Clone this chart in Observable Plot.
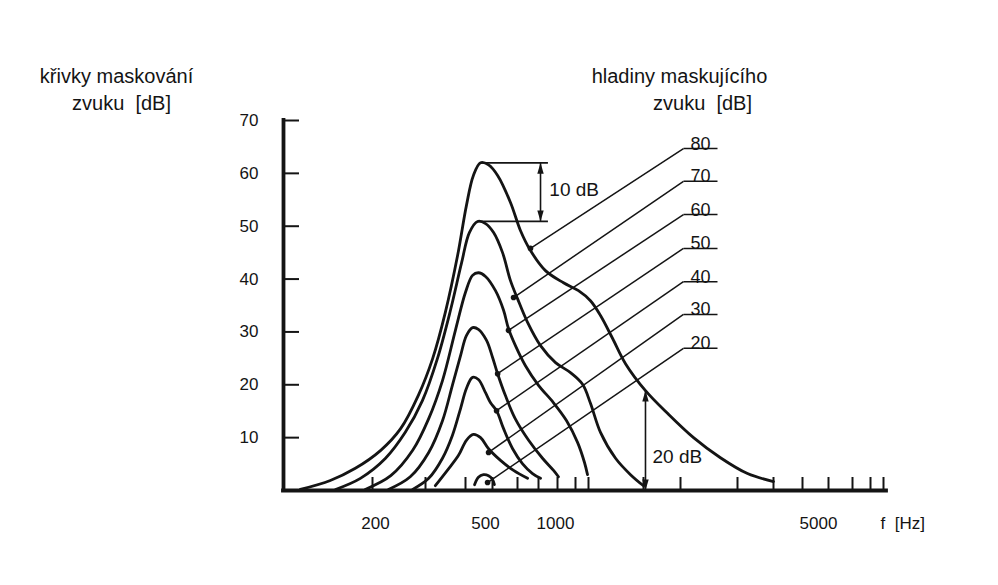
<!DOCTYPE html>
<html><head><meta charset="utf-8">
<script src="https://cdn.jsdelivr.net/npm/d3@7"></script>
<script src="https://cdn.jsdelivr.net/npm/@observablehq/plot@0.6"></script>
<style>html,body{margin:0;padding:0;background:#fff;} #chart svg{display:block;}</style>
</head><body><div id="chart"></div>
<script>
// masking noise levels [dB]
const levels = [20, 30, 40, 50, 60, 70, 80];
// masking curves: [frequency Hz, masking dB]
const curve20 = [[431,1.1],[445,2.5],[464,3.0],[484,2.8],[500,2.1],[507,1.1]];
const curve30 = [[322,0.9],[351,3.8],[380,6.6],[403,9.5],[427,10.6],[453,10.0],[484,7.9],[530,5.7],[583,3.8],[646,2.3]];
const curve40 = [[272,0.2],[307,2.3],[339,6.1],[364,10.4],[386,15.5],[403,19.3],[424,21.4],[445,21.0],[472,18.5],[492,16.6],[515,15.1],[542,11.7],[579,7.9],[622,5.1],[670,3.2],[710,2.3]];
const curve50 = [[226,0.2],[267,2.6],[307,7.2],[339,13.2],[364,19.9],[386,25.5],[403,29.3],[424,30.8],[445,30.5],[476,28.4],[500,25.2],[519,22.1],[549,18.0],[590,13.6],[651,9.5],[720,6.1],[778,3.8],[805,2.6]];
const curve60 = [[189,0.2],[230,2.8],[272,7.6],[307,13.6],[339,20.8],[372,30.3],[400,37.5],[424,40.7],[445,41.2],[472,40.5],[511,37.8],[542,34.1],[562,30.6],[591,27.4],[636,23.6],[700,19.9],[778,16.6],[849,13.2],[915,9.1],[968,5.3],[992,3.0]];
const curve70 = [[150,0.2],[182,2.3],[221,6.1],[257,11.0],[293,17.0],[327,25.0],[359,34.1],[389,43.1],[413,48.8],[442,50.9],[472,50.5],[504,48.8],[538,45.0],[570,39.7],[600,36.3],[646,31.8],[710,27.4],[789,24.2],[871,22.3],[953,20.1],[1025,16.5],[1163,11.0],[1406,6.1],[1698,3.0],[2000,0.9]];
const curve80 = [[114,0.2],[144,1.9],[175,4.2],[213,7.6],[248,11.7],[284,18.0],[316,25.0],[346,33.7],[378,44.5],[403,53.9],[427,59.6],[453,62.0],[484,61.6],[519,59.6],[570,54.5],[613,49.2],[660,45.4],[735,41.6],[832,39.3],[922,37.8],[1025,35.9],[1163,33.1],[1353,28.8],[1594,24.0],[2044,18.9],[2602,14.6],[3204,10.0],[3670,6.2],[4256,3.2],[5000,1.7]];
const curves = [curve20, curve30, curve40, curve50, curve60, curve70, curve80];

// axis ticks
const xTicks = [100,200,300,400,500,600,700,800,900,1000,2000,3000,4000,5000,6000,7000,8000,9000,10000];
const xLabels = [200, 500, 1000, 5000];
const yTicks = [10, 20, 30, 40, 50, 60, 70];

// leader lines from each curve to its level label
const leaderStartF = [480, 484, 515, 519, 562, 583, 660];
const leaderStartDb = [1.5, 7.2, 15.1, 22.1, 30.3, 36.5, 45.8];
const leaderLabelDb = [26.9, 33.3, 39.5, 45.8, 52.2, 58.5, 64.7];
const leaderLabelF = [3045, 3616];

// annotations
const peak80 = [453, 62.0];
const peak70 = [442, 50.9];
const bracketF = [748, 710];     // end of bracket lines, arrow position
const arrow20 = [2044, 0, 18.9]; // frequency, from dB, to dB

// --- build tables
const rows = curves.flatMap((c, i) => c.map(([f, db]) => ({level: levels[i], f, db})));
const leaders = levels.map((lv, i) => ({level: lv, f1: leaderStartF[i], d1: leaderStartDb[i], f2: leaderLabelF[0], d2: leaderLabelDb[i]}));
const arrowHeads = [
  {f: bracketF[1], db: peak80[1], up: true},
  {f: bracketF[1], db: peak70[1], up: false},
  {f: arrow20[0], db: arrow20[2], up: true},
  {f: arrow20[0], db: arrow20[1], up: false}
];

// scale layout (hand-drawn frequency axis: piecewise logarithmic)
const xRange = [283,372,425,465,492,517,538,557,575,588,643,680,737,773,802,828,852,870,883];
const labelShift = [3, -7, -33, 45];
const ink = "#141414";
const F = "'Liberation Sans', Arial, Helvetica, sans-serif";

// narrow filled arrowheads, tip at the data point
const headUp = {draw(ctx) { ctx.moveTo(0, 0); ctx.lineTo(3.2, 11); ctx.lineTo(-3.2, 11); ctx.closePath(); }};
const headDown = {draw(ctx) { ctx.moveTo(0, 0); ctx.lineTo(3.2, -11); ctx.lineTo(-3.2, -11); ctx.closePath(); }};

const marks = [
  // curves
  Plot.line(rows, {x: "f", y: "db", z: "level", curve: "catmull-rom", stroke: ink, strokeWidth: 2.8, strokeLinejoin: "round"}),
  // axes
  Plot.ruleY([0], {stroke: ink, strokeWidth: 3.8, strokeLinecap: "square"}),
  Plot.ruleX([100], {y1: 0, y2: 70, stroke: ink, strokeWidth: 3.8, strokeLinecap: "square"}),
  Plot.ruleY(yTicks, {stroke: ink, strokeWidth: 2, insetRight: 603 - 16}),
  Plot.ruleX(xTicks.slice(1), {stroke: ink, strokeWidth: 2, insetTop: 370 - 13}),
  Plot.text(yTicks, {y: d => d, text: d => String(d), frameAnchor: "left", textAnchor: "end", dx: -25, fontSize: 17, fill: ink}),
  ...xLabels.map((v, i) => Plot.text([v], {x: d => d, text: d => String(d), frameAnchor: "bottom", lineAnchor: "middle", dy: 33, dx: labelShift[i], fontSize: 17, fill: ink})),
  Plot.text(["f\u00a0\u00a0[Hz]"], {frameAnchor: "bottom-right", text: d => d, textAnchor: "start", lineAnchor: "middle", dx: -6, dy: 33, fontSize: 17, fill: ink}),
  // titles
  Plot.text(["křivky maskování"], {frameAnchor: "top-left", text: d => d, textAnchor: "middle", lineAnchor: "middle", dx: -167, dy: -44, fontSize: 20, fill: ink}),
  Plot.text(["zvuku\u00a0\u00a0[dB]"], {frameAnchor: "top-left", text: d => d, textAnchor: "middle", lineAnchor: "middle", dx: -162, dy: -17, fontSize: 20, fill: ink}),
  Plot.text(["hladiny maskujícího"], {frameAnchor: "top-left", text: d => d, textAnchor: "middle", lineAnchor: "middle", dx: 396, dy: -44, fontSize: 20, fill: ink}),
  Plot.text(["zvuku\u00a0\u00a0[dB]"], {frameAnchor: "top-left", text: d => d, textAnchor: "middle", lineAnchor: "middle", dx: 419, dy: -17, fontSize: 20, fill: ink}),
  // leaders
  Plot.link(leaders, {x1: "f1", y1: "d1", x2: "f2", y2: "d2", stroke: ink, strokeWidth: 1.5}),
  Plot.link(leaders, {x1: () => leaderLabelF[0], x2: () => leaderLabelF[1], y1: "d2", y2: "d2", stroke: ink, strokeWidth: 1.5}),
  Plot.dot(leaders, {x: "f1", y: "d1", r: 2.8, fill: ink}),
  Plot.text(leaders, {x: () => Math.sqrt(leaderLabelF[0] * leaderLabelF[1]), y: "d2", text: d => String(d.level), lineAnchor: "bottom", dy: 1, fontSize: 18, fill: ink}),
  // 10 dB bracket
  Plot.link([peak80, peak70], {x1: d => d[0], y1: d => d[1], x2: () => bracketF[0], y2: d => d[1], stroke: ink, strokeWidth: 1.8}),
  Plot.ruleX([bracketF[1]], {y1: peak70[1], y2: peak80[1], stroke: ink, strokeWidth: 1.6}),
  Plot.text(["10 dB"], {x: () => bracketF[0] * 1.01, y: () => (peak80[1] + peak70[1]) / 2 + 0.4, text: d => d, textAnchor: "start", fontSize: 19, fill: ink}),
  // 20 dB arrow
  Plot.ruleX([arrow20[0]], {y1: arrow20[1], y2: arrow20[2], stroke: ink, strokeWidth: 1.6}),
  Plot.dot(arrowHeads.filter(d => d.up), {x: "f", y: "db", symbol: headUp, r: 5, fill: ink, stroke: "none"}),
  Plot.dot(arrowHeads.filter(d => !d.up), {x: "f", y: "db", symbol: headDown, r: 5, fill: ink, stroke: "none"}),
  Plot.text(["20 dB"], {x: () => arrow20[0] * 1.08, y: () => 6.4, text: d => d, textAnchor: "start", fontSize: 19, fill: ink})
];

const chart = Plot.plot({
  width: 998, height: 585,
  marginTop: 120, marginBottom: 95, marginLeft: 283, marginRight: 112,
  style: {fontFamily: F, background: "#fff", color: ink, overflow: "visible"},
  x: {type: "log", domain: xTicks, range: xRange, axis: null},
  y: {domain: [0, 70], range: [490, 120], axis: null},
  marks
});
document.getElementById("chart").appendChild(chart);
</script>
</body></html>
